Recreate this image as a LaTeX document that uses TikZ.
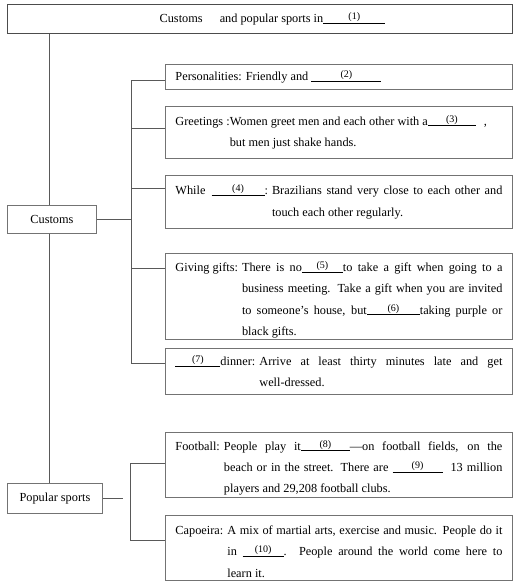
\documentclass[tikz,border=0pt]{standalone}
\usepackage{fontspec}
\setmainfont{Liberation Serif}
\newdimen\hangw
\newcommand\blank[2]{\hbox to #1{\rlap{\rule[-0.6pt]{#1}{0.6pt}}\hfil\raisebox{3pt}{\fontsize{10}{10}\selectfont #2}\hfil}}
\newcommand\lines[1]{\vbox{\hsize=327pt\baselineskip=21.3pt\lineskiplimit=-100pt\hbadness=10000 #1}}
\newcommand\jline[1]{\hbox to\hsize{#1}}
\newcommand\eline[1]{\hbox to\hsize{#1\hfil}}
\newcommand\lab[1]{\setbox0\hbox{#1}\global\hangw=\wd0 \box0}
\newcommand\indt{\hskip\hangw\relax}
\tikzset{
  boxline/.style={draw=black!55, line width=0.9pt},
  conn/.style={draw=black!65, line width=0.9pt},
  infobox/.style={boxline, anchor=north west, minimum width=347pt, inner xsep=10pt, inner ysep=0pt},
  plainbox/.style={boxline, anchor=north west, inner sep=0pt},
}
\begin{document}
\begin{tikzpicture}[x=1pt,y=-1pt,font=\fontsize{12.3}{21.3}\selectfont]
\useasboundingbox[fill=white] (0,0) rectangle (518,586);

\node[plainbox, draw=black!70, minimum width=505pt, minimum height=29pt] (top) at (7,4)
  {\hspace*{25pt}Customs\hspace{14pt} and popular sports in\blank{62pt}{(1)}};
\node[plainbox, minimum width=89pt, minimum height=28pt] (cus) at (7,205) {Customs};
\node[plainbox, minimum width=95pt, minimum height=30pt] (pop) at (7,483) {Popular sports};

\node[infobox, minimum height=25pt] (per) at (165,64)
  {\lines{\eline{Personalities: Friendly and \blank{70pt}{(2)}}}};
\node[infobox, minimum height=52pt] (gre) at (165,106)
  {\lines{\eline{\lab{Greetings :}Women greet men and each other with a\blank{48pt}{(3)}\hspace{8pt},}
  \eline{\indt but men just shake hands.}}};
\node[infobox, minimum height=53pt] (whi) at (165,175)
  {\lines{\jline{\lab{While\hspace{6pt}\blank{53pt}{(4)}: }Brazilians stand very close to each other and}
  \eline{\indt touch each other regularly.}}};
\node[infobox, minimum height=86pt] (giv) at (165,253)
  {\lines{\vskip7pt
  \jline{\lab{Giving gifts: }There is no\blank{41pt}{(5)}to take a gift when going to a}
  \jline{\indt business meeting. Take a gift when you are invited}
  \jline{\indt to someone’s house, but\blank{53pt}{(6)}taking purple or}
  \eline{\indt black gifts.}}};
\node[infobox, minimum height=46pt] (din) at (165,348)
  {\lines{\jline{\lab{\blank{45pt}{(7)}dinner: }Arrive at least thirty minutes late and get}
  \eline{\indt well-dressed.}}};
\node[infobox, minimum height=65pt] (foot) at (165,432)
  {\lines{\vskip6pt
  \jline{\lab{Football: }People play it\blank{49pt}{(8)}\textemdash on football fields, on the}
  \jline{\indt beach or in the street. There are \blank{50pt}{(9)}\hspace{8pt}13 million}
  \eline{\indt players and 29,208 football clubs.}}};
\node[infobox, minimum height=65pt] (cap) at (165,515)
  {\lines{\vskip7pt
  \jline{\lab{Capoeira: }A mix of martial arts, exercise and music. People do it}
  \jline{\indt in \blank{41pt}{(10)}. People around the world come here to}
  \eline{\indt learn it.}}};

% spine
\coordinate (sx) at (49,0);
\draw[conn] (top.south -| sx) -- (cus.north -| sx);
\draw[conn] (cus.south -| sx) -- (pop.north -| sx);

% customs bracket
\coordinate (b1) at (131,80);
\coordinate (b2) at (131,128);
\coordinate (b3) at (131,188);
\coordinate (b4) at (131,268);
\coordinate (b5) at (131,363);
\draw[conn] (cus.east) -- (cus.east -| b1);
\draw[conn] (b1) -- (b5);
\draw[conn] (b1) -- (b1 -| per.west);
\draw[conn] (b2) -- (b2 -| gre.west);
\draw[conn] (b3) -- (b3 -| whi.west);
\draw[conn] (b4) -- (b4 -| giv.west);
\draw[conn] (b5) -- (b5 -| din.west);

% sports bracket
\coordinate (pe) at (123,0);
\coordinate (c1) at (130,463);
\coordinate (c2) at (130,540);
\draw[conn] (pop.east) -- (pop.east -| pe);
\draw[conn] (c1 -| foot.west) -- (c1) -- (c2) -- (c2 -| cap.west);
\end{tikzpicture}
\end{document}
